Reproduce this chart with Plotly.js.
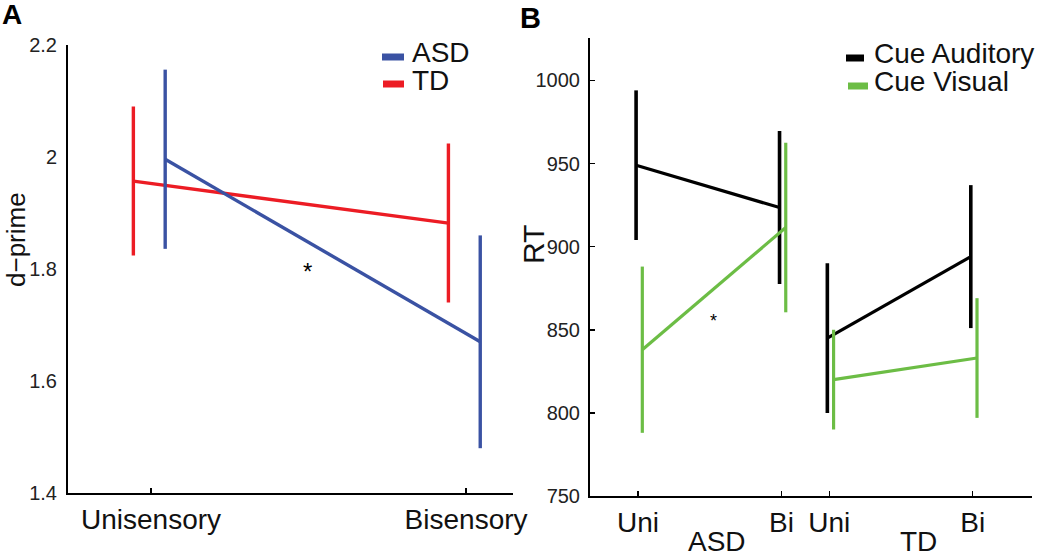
<!DOCTYPE html>
<html><head><meta charset="utf-8">
<script src="https://cdn.plot.ly/plotly-3.0.1.min.js"></script>
<style>html,body{margin:0;padding:0;background:#fff}</style>
</head><body><div id="chart" style="width:1050px;height:559px"></div>
<script>
// ---------- Panel A data (d-prime) ----------
const conditionsA = ['Unisensory', 'Bisensory'];
const asdMeanA = [1.996, 1.670];
const asdErrA = [0.160, 0.190];
const tdMeanA = [1.957, 1.882];
const tdErrA = [0.133, 0.142];
const yTicksA = [1.4, 1.6, 1.8, 2, 2.2];

// ---------- Panel B data (RT) ----------
const groupsB = ['ASD', 'TD'];
const conditionsB = ['Uni', 'Bi'];
const audMeanASD = [949, 923.5];
const audErrASD = [45, 46];
const audMeanTD = [845, 894];
const audErrTD = [45, 43];
const visMeanASD = [838, 911.5];
const visErrASD = [50, 51];
const visMeanTD = [820, 833];
const visErrTD = [30, 36];
const yTicksB = [750, 800, 850, 900, 950, 1000];

const FONT = 'Liberation Sans, Arial, Helvetica, sans-serif';
const BLUE = '#3a52a3', RED = '#ec1c24', BLACK = '#000000', GREEN = '#6cbd45';

// positions (layout only)
const posA = conditionsA.map((c, i) => i + 1);
const offA = {TD: -0.056, ASD: 0.045};
const posB = [];
groupsB.forEach((g, gi) => conditionsB.forEach((c, ci) => posB.push(gi * 4 + ci * 3 + 1)));
const offB = {aud: -0.04, vis: 0.09};

function tr(x, y, err, color, xa, ya, name, lw, ew) {
  return {
    type: 'scatter', mode: 'lines', x: x, y: y, name: name,
    xaxis: xa, yaxis: ya, showlegend: false, hoverinfo: 'x+y+name',
    line: {color: color, width: lw},
    error_y: {type: 'data', array: err, visible: true, width: 0, thickness: ew, color: color}
  };
}

const data = [
  tr(posA.map(p => p + offA.TD), tdMeanA, tdErrA, RED, 'x', 'y', 'TD', 3.4, 3.4),
  tr(posA.map(p => p + offA.ASD), asdMeanA, asdErrA, BLUE, 'x', 'y', 'ASD', 3.4, 3.4),
  tr(posB.slice(0, 2).map(p => p + offB.aud), audMeanASD, audErrASD, BLACK, 'x2', 'y2', 'Cue Auditory (ASD)', 3.2, 3.6),
  tr(posB.slice(2, 4).map(p => p + offB.aud), audMeanTD, audErrTD, BLACK, 'x2', 'y2', 'Cue Auditory (TD)', 3.2, 3.6),
  tr(posB.slice(0, 2).map(p => p + offB.vis), visMeanASD, visErrASD, GREEN, 'x2', 'y2', 'Cue Visual (ASD)', 3.2, 3.2),
  tr(posB.slice(2, 4).map(p => p + offB.vis), visMeanTD, visErrTD, GREEN, 'x2', 'y2', 'Cue Visual (TD)', 3.2, 3.2)
];

const W = 1050, H = 559;
const px = v => v / W, py = v => (H - v) / H;

const axisCommon = {
  showgrid: false, zeroline: false, showline: true, linecolor: '#000', linewidth: 2,
  ticks: 'inside', tickcolor: '#000', tickwidth: 1.5, ticklen: 5,
  tickfont: {family: FONT, size: 20, color: '#222'}, automargin: false, fixedrange: true
};

const layout = {
  width: W, height: H, margin: {l: 0, r: 0, t: 0, b: 0},
  paper_bgcolor: '#fff', plot_bgcolor: '#fff', showlegend: false,
  font: {family: FONT, color: '#111'},
  xaxis: Object.assign({}, axisCommon, {
    domain: [px(68), px(513)], range: [0.7365, 2.149], anchor: 'y',
    tickvals: posA, ticktext: conditionsA, tickfont: {family: FONT, size: 28, color: '#111'}
  }),
  yaxis: Object.assign({}, axisCommon, {
    domain: [py(493), py(45)], range: [1.4, 2.2], anchor: 'x',
    tickvals: yTicksA, ticks: '', ticklabelstandoff: 5
  }),
  xaxis2: Object.assign({}, axisCommon, {
    domain: [px(590), px(1032)], range: [-0.004, 9.24], anchor: 'y2',
    tickvals: posB, ticktext: posB.map((p, i) => conditionsB[i % 2]), tickfont: {family: FONT, size: 28, color: '#111'}
  }),
  yaxis2: Object.assign({}, axisCommon, {
    domain: [py(496), py(38)], range: [750, 1025.5], anchor: 'x2',
    tickvals: yTicksB, ticklabelstandoff: 4
  }),
  shapes: [
    {type: 'line', xref: 'paper', yref: 'paper', x0: px(382), x1: px(404), y0: py(57), y1: py(57), line: {color: BLUE, width: 7}},
    {type: 'line', xref: 'paper', yref: 'paper', x0: px(383), x1: px(404), y0: py(84), y1: py(84), line: {color: RED, width: 7}},
    {type: 'line', xref: 'paper', yref: 'paper', x0: px(846), x1: px(864), y0: py(58), y1: py(58), line: {color: BLACK, width: 7}},
    {type: 'line', xref: 'paper', yref: 'paper', x0: px(848), x1: px(868), y0: py(86), y1: py(86), line: {color: GREEN, width: 7}}
  ],
  annotations: [
    {text: '<b>A</b>', xref: 'paper', yref: 'paper', x: px(0), y: py(14), xanchor: 'left', yanchor: 'middle', showarrow: false, font: {family: FONT, size: 28, color: '#000'}},
    {text: '<b>B</b>', xref: 'paper', yref: 'paper', x: px(518), y: py(18), xanchor: 'left', yanchor: 'middle', showarrow: false, font: {family: FONT, size: 29, color: '#000'}},
    {text: 'd\u2212prime', xref: 'paper', yref: 'paper', x: px(16), y: py(240), textangle: -90, xanchor: 'center', yanchor: 'middle', showarrow: false, font: {family: FONT, size: 26, color: '#111'}},
    {text: 'RT', xref: 'paper', yref: 'paper', x: px(533), y: py(245), textangle: -90, xanchor: 'center', yanchor: 'middle', showarrow: false, font: {family: FONT, size: 30, color: '#111'}},
    {text: 'ASD', xref: 'paper', yref: 'paper', x: px(410), y: py(53), xanchor: 'left', yanchor: 'middle', showarrow: false, font: {family: FONT, size: 28, color: '#111'}},
    {text: 'TD', xref: 'paper', yref: 'paper', x: px(410), y: py(80), xanchor: 'left', yanchor: 'middle', showarrow: false, font: {family: FONT, size: 28, color: '#111'}},
    {text: 'Cue Auditory', xref: 'paper', yref: 'paper', x: px(872), y: py(54), xanchor: 'left', yanchor: 'middle', showarrow: false, font: {family: FONT, size: 28, color: '#111'}},
    {text: 'Cue Visual', xref: 'paper', yref: 'paper', x: px(872), y: py(82), xanchor: 'left', yanchor: 'middle', showarrow: false, font: {family: FONT, size: 28, color: '#111'}},
    {text: '*', xref: 'x', yref: 'y', x: 1.498, y: 1.795, showarrow: false, font: {family: FONT, size: 24, color: '#000'}},
    {text: '*', xref: 'x2', yref: 'y2', x: 2.57, y: 855, showarrow: false, font: {family: FONT, size: 18, color: '#000'}},
    {text: groupsB[0], xref: 'x2', yref: 'paper', x: 2.65, y: 0.002, yanchor: 'bottom', showarrow: false, borderpad: 0, font: {family: FONT, size: 28, color: '#111'}},
    {text: groupsB[1], xref: 'x2', yref: 'paper', x: 6.86, y: 0.002, yanchor: 'bottom', showarrow: false, borderpad: 0, font: {family: FONT, size: 28, color: '#111'}}
  ]
};

Plotly.newPlot('chart', data, layout, {displayModeBar: false, staticPlot: true});
</script>
</body></html>
